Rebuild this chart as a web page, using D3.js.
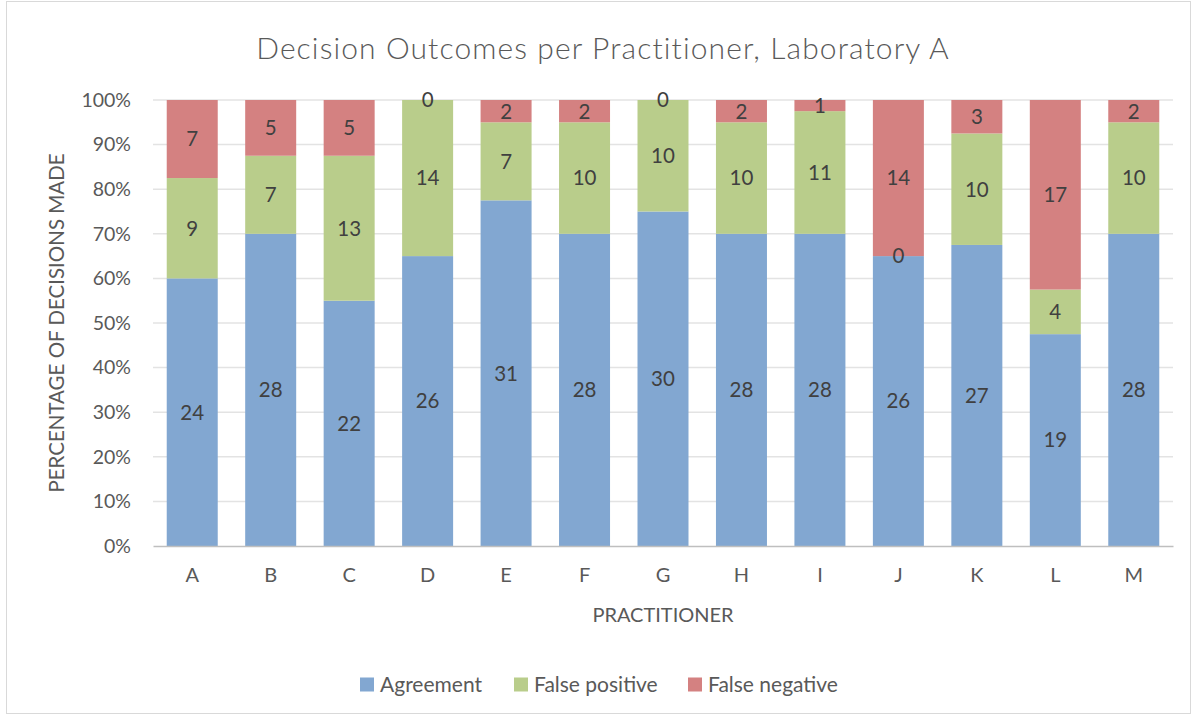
<!DOCTYPE html>
<html>
<head>
<meta charset="utf-8">
<script src="https://cdn.jsdelivr.net/npm/d3@7"></script>
<style>
  body { margin: 0; background: #fff; }
  text { font-family: Lato, "Open Sans", sans-serif; }
</style>
</head>
<body>
<div id="chart"></div>
<script>
// data
const practitioners = ['A', 'B', 'C', 'D', 'E', 'F', 'G', 'H', 'I', 'J', 'K', 'L', 'M'];
const agreement = [24, 28, 22, 26, 31, 28, 30, 28, 28, 26, 27, 19, 28];
const falsePositive = [9, 7, 13, 14, 7, 10, 10, 10, 11, 0, 10, 4, 10];
const falseNegative = [7, 5, 5, 0, 2, 2, 0, 2, 1, 14, 3, 17, 2];
const seriesNames = ['Agreement', 'False positive', 'False negative'];
const seriesColors = ['#82a7d1', '#b9cd8b', '#d48181'];
const yTicks = [0, 0.1, 0.2, 0.3, 0.4, 0.5, 0.6, 0.7, 0.8, 0.9, 1];

const width = 1197, height = 717;
const margin = { left: 153, right: 24, top: 100, bottom: 171 };

const svg = d3.select('#chart').append('svg')
    .attr('width', width)
    .attr('height', height);

// chart frame
svg.append('rect')
    .attr('x', 6.5).attr('y', 1.5)
    .attr('width', 1184).attr('height', 712)
    .attr('fill', '#fff')
    .attr('stroke', '#d9d9d9');

const x = d3.scaleBand()
    .domain(practitioners)
    .range([margin.left, width - margin.right])
    .paddingInner(0.35)
    .paddingOuter(0.175);

const y = d3.scaleLinear()
    .domain([0, 1])
    .range([height - margin.bottom, margin.top]);

// rows for stacking (as shares of total)
const rows = practitioners.map((p, i) => {
    const total = agreement[i] + falsePositive[i] + falseNegative[i];
    return {
        name: p,
        values: [agreement[i], falsePositive[i], falseNegative[i]],
        total
    };
});

const stack = d3.stack()
    .keys([0, 1, 2])
    .value((d, k) => d.values[k] / d.total);
const layers = stack(rows);

// gridlines
svg.append('g')
    .selectAll('line')
    .data(yTicks.slice(1))
    .join('line')
    .attr('x1', margin.left).attr('x2', width - margin.right)
    .attr('y1', d => y(d)).attr('y2', d => y(d))
    .attr('stroke', '#e3e3e3')
    .attr('stroke-width', 1.5);

// y axis labels
const yAxis = svg.append('g')
    .attr('transform', `translate(${margin.left},0)`)
    .call(d3.axisLeft(y).tickValues(yTicks).tickFormat(d3.format('.0%')).tickSize(0).tickPadding(22));
yAxis.select('.domain').remove();
yAxis.selectAll('text')
    .attr('fill', '#595959')
    .style('font-size', '19.5px');

// bars
const layerGroups = svg.append('g')
    .selectAll('g')
    .data(layers)
    .join('g')
    .attr('fill', (d, i) => seriesColors[i]);

layerGroups.selectAll('rect')
    .data(d => d)
    .join('rect')
    .attr('x', d => x(d.data.name))
    .attr('width', x.bandwidth())
    .attr('y', d => y(d[1]))
    .attr('height', d => y(d[0]) - y(d[1]));

// value labels (drawn above all bars so zero labels stay visible)
const labelData = layers.flatMap(layer => layer.map(d => ({
    name: d.data.name,
    mid: (d[0] + d[1]) / 2,
    value: d.data.values[layer.key]
})));

svg.append('g')
    .selectAll('text')
    .data(labelData)
    .join('text')
    .attr('x', d => x(d.name) + x.bandwidth() / 2)
    .attr('y', d => y(d.mid))
    .attr('dy', '0.36em')
    .attr('text-anchor', 'middle')
    .attr('fill', '#404040')
    .style('font-size', '20.5px')
    .text(d => d.value);

// x axis
const xAxis = svg.append('g')
    .attr('transform', `translate(0,${y(0)})`)
    .call(d3.axisBottom(x).tickSize(0).tickPadding(22));
xAxis.select('.domain')
    .attr('stroke', '#bfbfbf')
    .attr('stroke-width', 1.5);
xAxis.selectAll('text')
    .attr('fill', '#595959')
    .style('font-size', '20px');

// axis titles
svg.append('text')
    .attr('x', (margin.left + width - margin.right) / 2)
    .attr('y', 622)
    .attr('text-anchor', 'middle')
    .attr('fill', '#595959')
    .style('font-size', '20px')
    .text('PRACTITIONER');

svg.append('text')
    .attr('transform', `translate(64,${y(0.5)}) rotate(-90)`)
    .attr('text-anchor', 'middle')
    .attr('fill', '#595959')
    .style('font-size', '20.5px')
    .text('PERCENTAGE OF DECISIONS MADE');

// title
svg.append('text')
    .attr('x', 603)
    .attr('y', 59)
    .attr('text-anchor', 'middle')
    .attr('fill', '#595959')
    .style('font-size', '30px')
    .style('font-weight', 300)
    .style('letter-spacing', '1.1px')
    .text('Decision Outcomes per Practitioner, Laboratory A');

// legend
const legendX = [360, 514, 688];
const legend = svg.append('g')
    .selectAll('g')
    .data(seriesNames)
    .join('g')
    .attr('transform', (d, i) => `translate(${legendX[i]},684.5)`);
legend.append('rect')
    .attr('x', 0).attr('y', -7)
    .attr('width', 14).attr('height', 14)
    .attr('fill', (d, i) => seriesColors[i]);
legend.append('text')
    .attr('x', 20)
    .attr('dy', '0.36em')
    .attr('fill', '#595959')
    .style('font-size', '21px')
    .text(d => d);
</script>
</body>
</html>
